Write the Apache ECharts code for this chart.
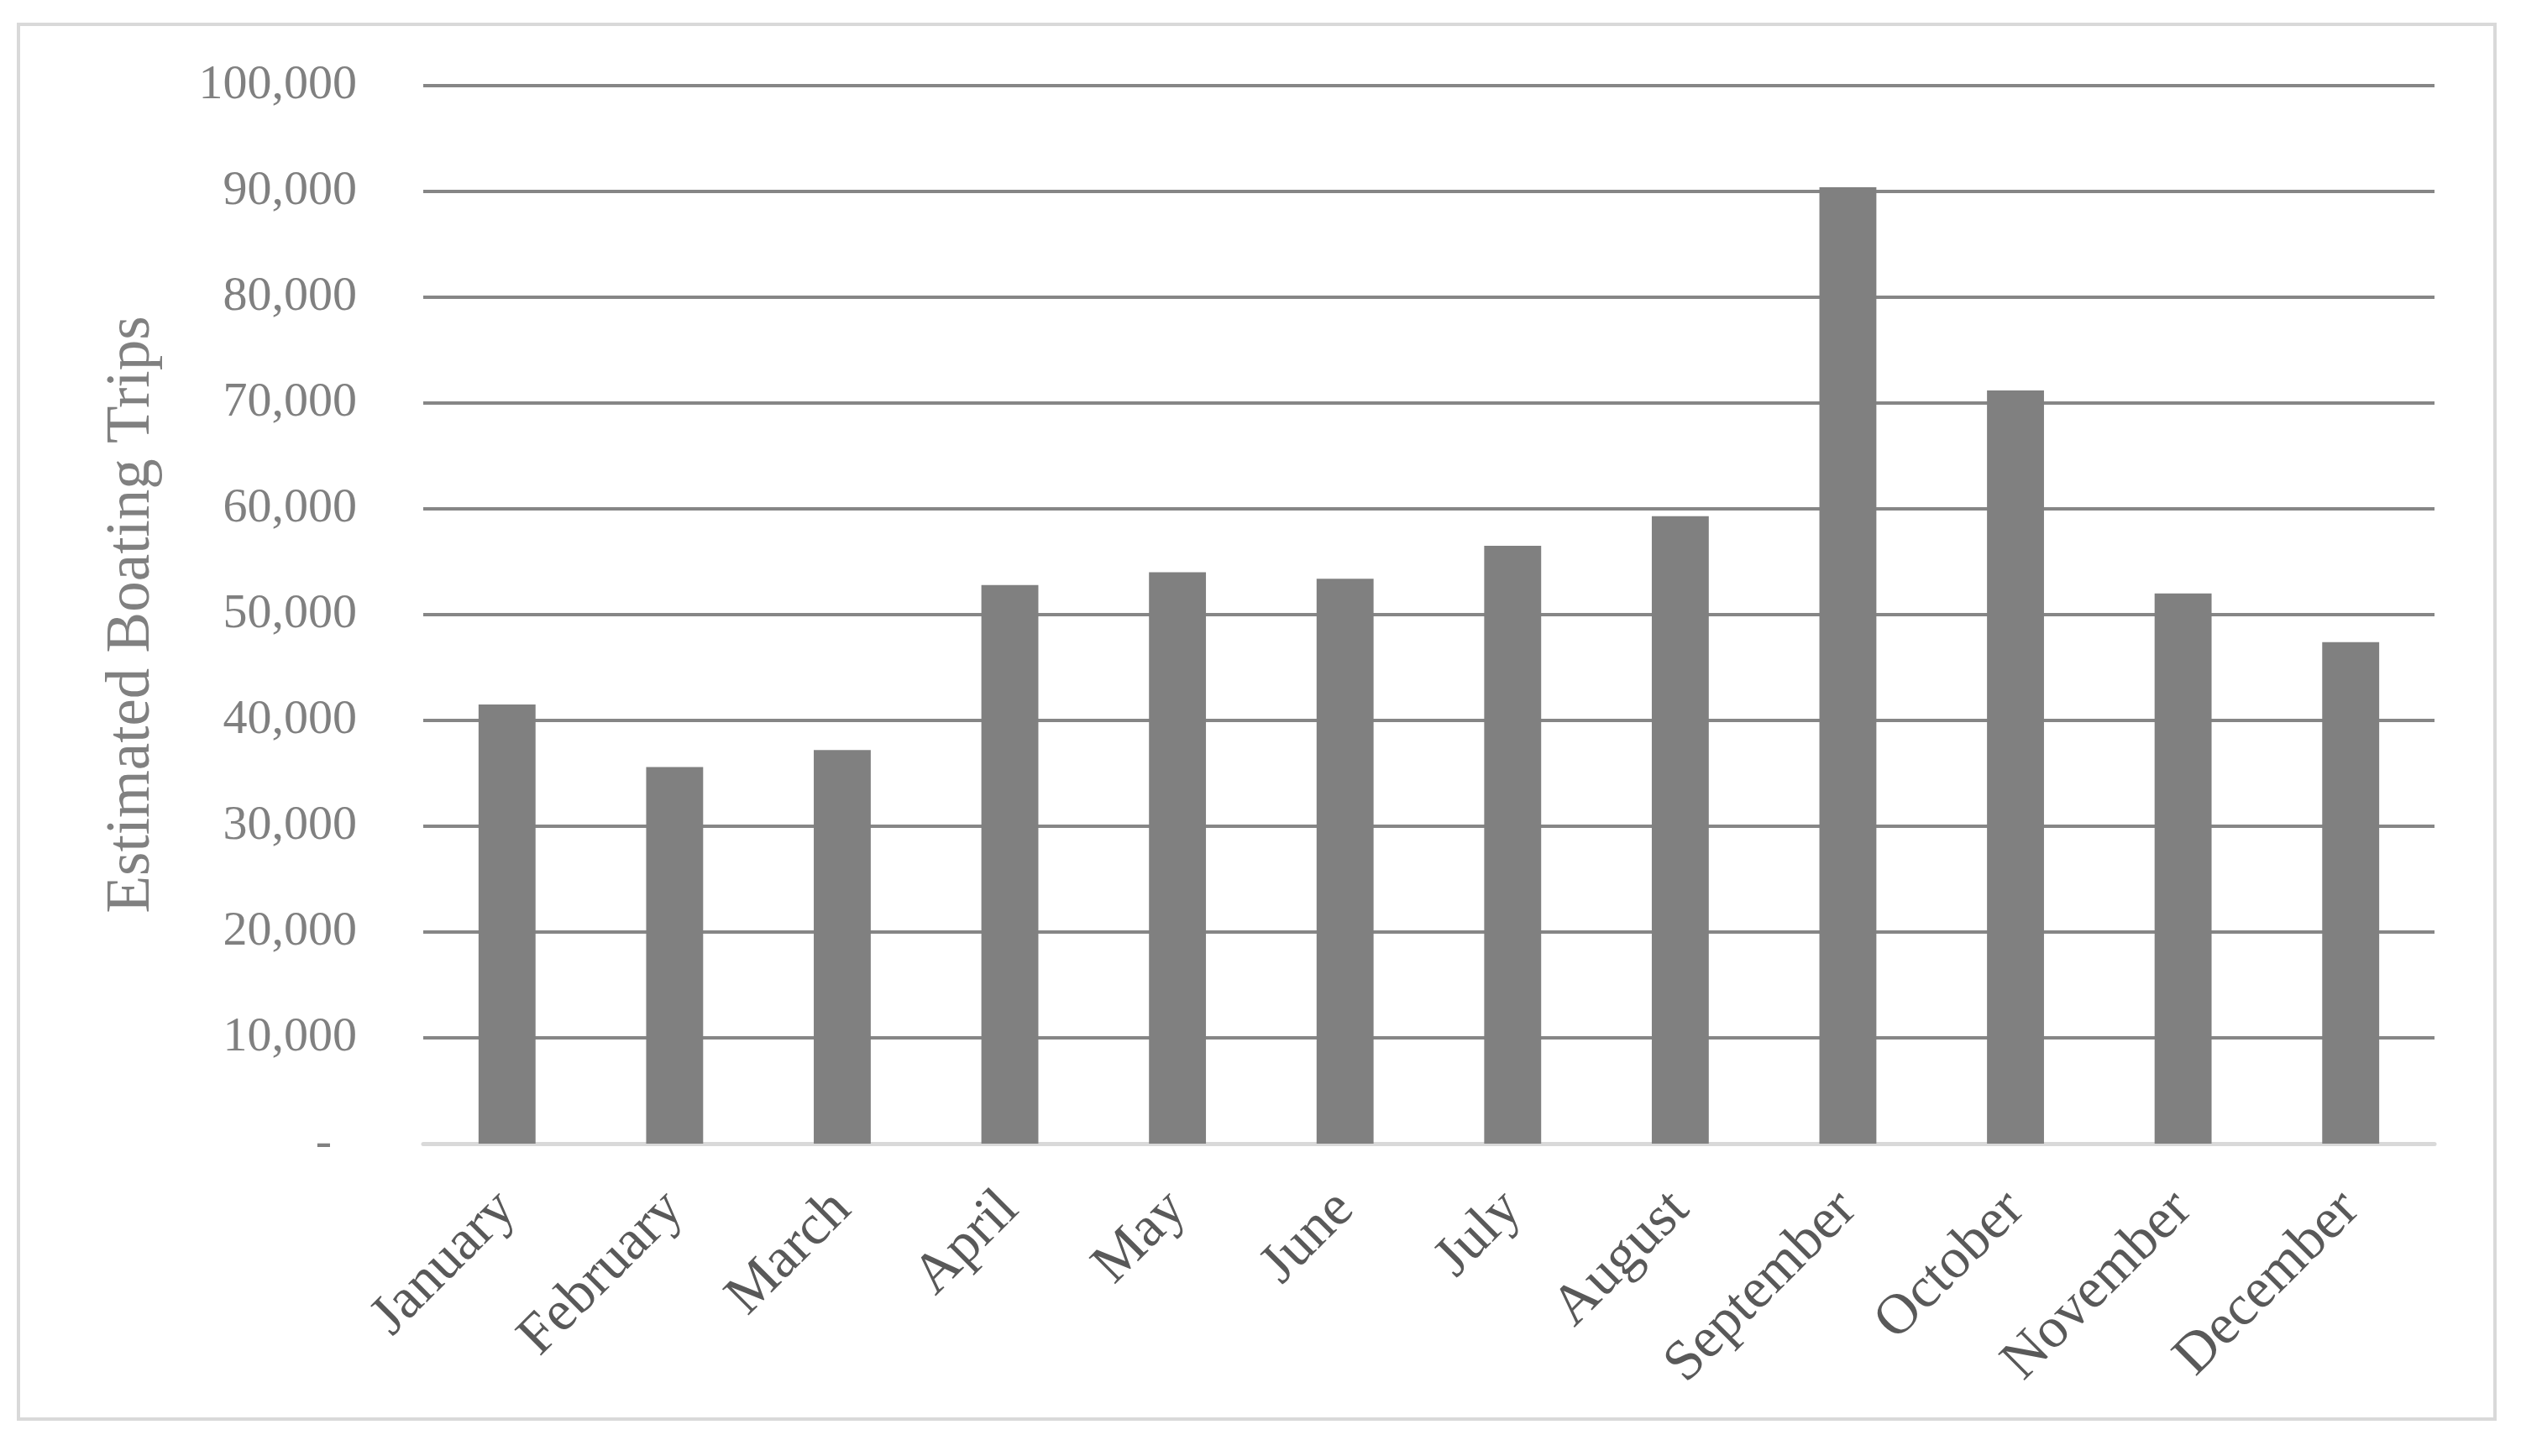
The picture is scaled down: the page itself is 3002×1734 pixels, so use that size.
<!DOCTYPE html>
<html>
<head>
<meta charset="utf-8">
<script src="https://cdn.jsdelivr.net/npm/echarts@6/dist/echarts.min.js"></script>
<style>
  html, body { margin: 0; padding: 0; background: #fff; }
  #chart { width: 3002px; height: 1734px; }
</style>
</head>
<body>
<div id="chart"></div>
<script>
// months on the x axis
const months = ['January', 'February', 'March', 'April', 'May', 'June',
  'July', 'August', 'September', 'October', 'November', 'December']
// estimated boating trips per month
const trips = [41500, 35600, 37200, 52800, 54000, 53400,
  56500, 59300, 90400, 71200, 52000, 47400]
// y axis ticks
const yMin = 0
const yMax = 100000
const yStep = 10000

const font = '"Liberation Serif", "DejaVu Serif", serif'

const chart = echarts.init(document.getElementById('chart'))

const option = {
  backgroundColor: '#ffffff',
  animation: false,
  graphic: [{
    type: 'rect',
    shape: { x: 22, y: 29, width: 2949, height: 1661 },
    style: { fill: 'none', stroke: '#d9d9d9', lineWidth: 4 },
    silent: true
  }],
  grid: {
    left: 504,
    right: 103,
    top: 102,
    bottom: 372,
    containLabel: false
  },
  xAxis: {
    type: 'category',
    data: months,
    axisTick: { show: false },
    axisLine: { show: true, lineStyle: { color: '#d9d9d9', width: 5 } },
    axisLabel: {
      rotate: 45,
      interval: 0,
      margin: 68,
      fontFamily: font,
      fontSize: 68,
      color: '#595959'
    }
  },
  yAxis: {
    type: 'value',
    min: yMin,
    max: yMax,
    interval: yStep,
    name: 'Estimated Boating Trips',
    nameLocation: 'middle',
    nameRotate: 90,
    nameGap: 310,
    nameTextStyle: {
      fontFamily: font,
      fontSize: 73,
      color: '#808080'
    },
    axisLine: { show: false },
    axisTick: { show: false },
    splitLine: { lineStyle: { color: '#868686', width: 4 } },
    axisLabel: {
      margin: 79,
      fontFamily: font,
      fontSize: 58,
      color: '#808080',
      formatter: function (v) {
        if (v === 0) return '{d|-}'
        return v.toLocaleString('en-US')
      },
      rich: {
        d: {
          fontFamily: font,
          fontSize: 58,
          color: '#808080',
          padding: [0, 30, 0, 0]
        }
      }
    }
  },
  series: [{
    type: 'bar',
    data: trips,
    barWidth: '34%',
    itemStyle: { color: '#808080' }
  }]
}

chart.setOption(option)
</script>
</body>
</html>
